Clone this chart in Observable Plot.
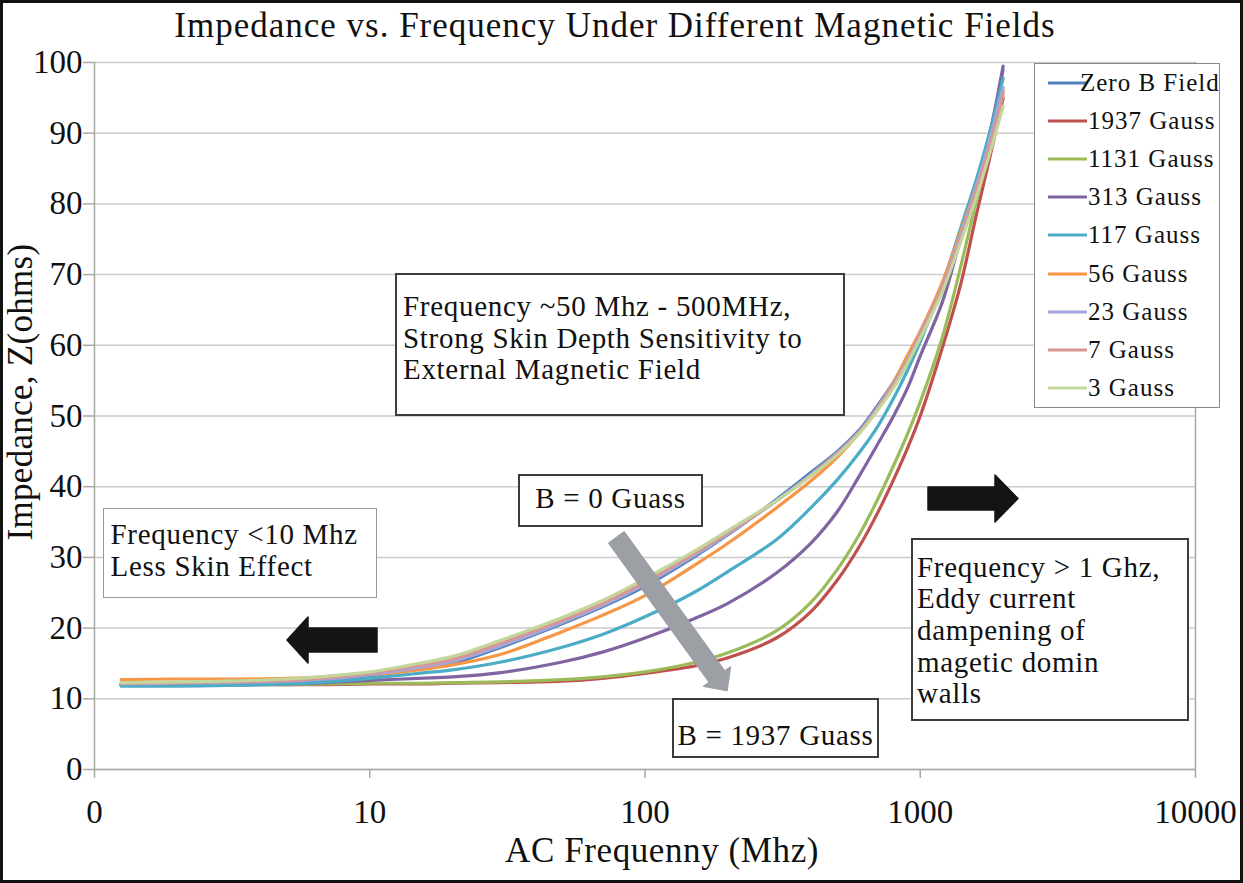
<!DOCTYPE html>
<html>
<head>
<meta charset="utf-8">
<script src="https://cdn.jsdelivr.net/npm/d3@7"></script>
<script src="https://cdn.jsdelivr.net/npm/@observablehq/plot@0.6"></script>
<style>
  html, body { margin: 0; padding: 0; background: #fff; }
  #wrap { position: relative; width: 1243px; height: 883px; overflow: hidden; background: #fff;
          font-family: "Liberation Serif", "Times New Roman", serif; color: #111; }
  .abs { position: absolute; }
  #title { left: 0; top: 0; width: 1230px; height: 50px; line-height: 50px; padding-top: 1px; box-sizing: border-box;
           text-align: center; font-size: 35px; letter-spacing: 1px; white-space: nowrap; }
  .box { position: absolute; background: #fff; box-sizing: border-box; font-size: 29px; line-height: 31.7px;
         letter-spacing: 0.7px; white-space: nowrap; }
  #frame { position: absolute; left: 0; top: 0; width: 1243px; height: 883px; box-sizing: border-box;
           border: 3px solid #111; pointer-events: none; }
  #legend { position: absolute; left: 1034px; top: 63px; width: 186px; height: 345px; box-sizing: border-box;
            border: 1.5px solid #8a8a8a; background: #fff; }
  .lrow { position: absolute; left: 0; height: 30px; width: 186px; }
  .ltext { position: absolute; font-size: 25px; letter-spacing: 1px; line-height: 30px; white-space: nowrap; top: 0; }
</style>
</head>
<body>
<div id="wrap">
  <div id="title" class="abs">Impedance vs. Frequency Under Different Magnetic Fields</div>
  <div id="chart" class="abs" style="left:0;top:50px;"></div>
</div>
<script>
// ---- data ----
const freq = [1.25, 2, 3, 5, 7, 10, 15, 20, 30, 50, 70, 100, 150, 200, 300, 400, 500, 600, 700, 800, 900, 1000, 1200, 1400, 1600, 1800, 2000];

const zeroB  = [12.0, 12.1, 12.2, 12.4, 12.7, 13.2, 14.2, 15.0, 17.3, 20.6, 23.0, 25.9, 30.0, 33.2, 38.2, 42.0, 45.0, 48.0, 51.5, 54.8, 58.0, 61.5, 68.5, 75.5, 82.5, 90.0, 99.0];
const g1937  = [12.0, 12.0, 12.0, 12.0, 12.0, 12.1, 12.1, 12.2, 12.3, 12.5, 12.9, 13.6, 14.6, 15.8, 18.6, 22.3, 26.8, 31.5, 36.3, 41.0, 45.5, 50.0, 59.5, 68.5, 78.5, 87.0, 95.0];
const g1131  = [12.0, 12.0, 12.0, 12.0, 12.1, 12.2, 12.2, 12.3, 12.4, 12.7, 13.1, 13.8, 15.1, 16.5, 19.6, 23.6, 28.3, 33.2, 38.2, 43.0, 47.5, 52.0, 61.0, 71.0, 80.5, 88.5, 96.0];
const g313   = [12.0, 12.0, 12.0, 12.1, 12.3, 12.6, 12.9, 13.1, 13.7, 15.2, 16.6, 18.6, 21.3, 23.5, 27.8, 32.0, 36.5, 41.5, 46.0, 50.0, 54.0, 58.5, 66.0, 75.0, 83.0, 90.5, 99.5];
const g117   = [11.8, 11.8, 11.9, 12.1, 12.4, 12.9, 13.6, 14.1, 15.2, 17.3, 19.1, 21.6, 25.0, 28.0, 32.5, 37.0, 41.0, 44.8, 48.5, 52.5, 56.5, 60.5, 68.5, 76.5, 83.5, 90.5, 97.8];
const g56    = [12.7, 12.8, 12.8, 12.9, 13.1, 13.4, 14.1, 14.8, 16.3, 19.5, 21.8, 24.6, 28.8, 32.0, 37.0, 40.8, 44.2, 47.6, 51.2, 54.8, 58.6, 62.0, 68.8, 76.0, 82.5, 89.0, 96.0];
const g23    = [12.1, 12.2, 12.3, 12.5, 12.8, 13.4, 14.4, 15.3, 17.5, 20.8, 23.2, 26.2, 30.2, 33.3, 38.0, 41.7, 44.8, 47.8, 51.2, 54.6, 58.0, 61.6, 68.2, 75.5, 82.5, 89.5, 96.5];
const g7     = [12.2, 12.3, 12.4, 12.6, 13.0, 13.6, 14.7, 15.6, 17.9, 21.1, 23.5, 26.5, 30.5, 33.5, 38.0, 41.6, 44.7, 47.7, 51.0, 54.4, 57.8, 61.4, 68.0, 75.0, 82.0, 88.5, 95.5];
const g3     = [12.3, 12.4, 12.5, 12.8, 13.2, 13.8, 15.0, 16.0, 18.3, 21.5, 23.9, 27.0, 30.8, 33.8, 38.0, 41.5, 44.5, 47.5, 50.8, 54.0, 57.5, 61.0, 67.5, 74.5, 81.0, 87.5, 93.8];

const seriesNames  = ["Zero B Field", "1937 Gauss", "1131 Gauss", "313 Gauss", "117 Gauss", "56 Gauss", "23 Gauss", "7 Gauss", "3 Gauss"];
const seriesValues = [zeroB, g1937, g1131, g313, g117, g56, g23, g7, g3];
const seriesColors = ["#4F81BD", "#C0504D", "#9BBB59", "#8064A2", "#4BACC6", "#F79646", "#A2A6D8", "#D99694", "#C3D69B"];

const xTicks = [1, 10, 100, 1000, 10000];
const xTickLabels = ["0", "10", "100", "1000", "10000"];
const yTicks = [0, 10, 20, 30, 40, 50, 60, 70, 80, 90, 100];

const table = seriesNames.flatMap((s, k) => freq.map((f, i) => ({series: s, f, z: seriesValues[k][i]})));
const xLabelMap = new Map(xTicks.map((t, i) => [t, xTickLabels[i]]));

// ---- chart ----
const axisGray = "#a8a8a8";
const chart = Plot.plot({
  width: 1243,
  height: 833,
  marginTop: 12,
  marginBottom: 114,
  marginLeft: 94,
  marginRight: 48,
  style: {fontFamily: "'Liberation Serif', 'Times New Roman', serif", fontSize: "33px", color: "#111", background: "transparent", overflow: "visible"},
  x: {type: "log", domain: [1, 10000], axis: null},
  y: {domain: [0, 100], axis: null},
  color: {domain: seriesNames, range: seriesColors},
  marks: [
    Plot.gridY(yTicks, {stroke: "#cbcbcb", strokeOpacity: 1, strokeWidth: 1.5}),
    Plot.ruleX([1], {stroke: axisGray, strokeWidth: 1.5}),
    Plot.ruleX([10000], {stroke: axisGray, strokeWidth: 1.5}),
    Plot.ruleY([0], {stroke: axisGray, strokeWidth: 1.5}),
    Plot.axisX(xTicks, {tickFormat: d => xLabelMap.get(d), tickSize: 9, tickPadding: 21, stroke: axisGray, strokeWidth: 1.5, fill: "#111", fontSize: 33, fontFamily: "Liberation Serif", label: null}),
    Plot.axisY(yTicks, {tickSize: 11, tickPadding: 1, stroke: axisGray, strokeWidth: 1.5, fill: "#111", fontSize: 33, fontFamily: "Liberation Serif", label: null}),
    Plot.line(table, {x: "f", y: "z", z: "series", stroke: "series", strokeWidth: 3.2, curve: "catmull-rom"})
  ]
});
document.getElementById("chart").appendChild(chart);

const wrap = document.getElementById("wrap");

// ---- axis titles ----
const xl = document.createElement("div");
xl.className = "abs";
xl.style.cssText = "left:505px;top:831px;font-size:35px;line-height:40px;letter-spacing:0.6px;white-space:nowrap;";
xl.textContent = "AC Frequenny (Mhz)";
wrap.appendChild(xl);

const yl = document.createElement("div");
yl.className = "abs";
yl.style.cssText = "left:-178.8px;top:372px;width:400px;height:40px;font-size:35px;line-height:40px;text-align:center;letter-spacing:0.3px;white-space:nowrap;transform:rotate(-90deg);transform-origin:200px 20px;";
yl.textContent = "Impedance, Z(ohms)";
wrap.appendChild(yl);

// ---- annotation shapes (arrows) ----
const ns = "http://www.w3.org/2000/svg";
const ov = document.createElementNS(ns, "svg");
ov.setAttribute("width", 1243); ov.setAttribute("height", 883);
ov.style.cssText = "position:absolute;left:0;top:0;pointer-events:none;";
function poly(pts, fill) {
  const p = document.createElementNS(ns, "polygon");
  p.setAttribute("points", pts.map(q => q.join(",")).join(" "));
  p.setAttribute("fill", fill);
  p.setAttribute("stroke", fill);
  p.setAttribute("stroke-width", 1.5);
  p.setAttribute("stroke-linejoin", "round");
  ov.appendChild(p);
}
poly([[287,640],[308,617],[308,628],[377,628],[377,652],[308,652],[308,663]], "#141414");
poly([[928,487],[995,487],[995,475],[1018,498.5],[995,522],[995,510],[928,510]], "#141414");
(function () {
  const A = [616.5, 537.5], B = [727, 690.5];
  const dx = B[0] - A[0], dy = B[1] - A[1], L = Math.hypot(dx, dy);
  const u = [dx / L, dy / L], n = [-u[1], u[0]];
  const hl = 17, sw = 9.5, hw = 16.5;
  const H = [B[0] - hl * u[0], B[1] - hl * u[1]];
  const pt = (P, k) => [P[0] + k * n[0], P[1] + k * n[1]];
  poly([pt(A, sw), pt(H, sw), pt(H, hw), B, pt(H, -hw), pt(H, -sw), pt(A, -sw)], "#9c9fa3");
})();
wrap.appendChild(ov);

// ---- text boxes ----
function box(left, top, w, h, border, padTop, padLeft, lines, align) {
  const d = document.createElement("div");
  d.className = "box";
  d.style.left = left + "px"; d.style.top = top + "px";
  d.style.width = w + "px"; d.style.height = h + "px";
  d.style.border = border;
  d.style.paddingTop = padTop + "px";
  d.style.paddingLeft = padLeft + "px";
  if (align) d.style.textAlign = align;
  d.innerHTML = lines.map(t => t.replace(/&/g, "&amp;").replace(/</g, "&lt;").replace(/>/g, "&gt;")).join("<br>");
  wrap.appendChild(d);
}
box(395, 273, 450, 143, "2px solid #3c3c3c", 16, 6, ["Frequency ~50 Mhz - 500MHz,", "Strong Skin Depth Sensitivity to", "External Magnetic Field"]);
box(518, 474, 185, 53, "2px solid #3c3c3c", 6.5, 0, ["B = 0 Guass"], "center");
box(103, 508, 274, 90, "1.5px solid #9a9a9a", 10, 6.5, ["Frequency <10 Mhz", "Less Skin Effect"]);
box(911, 538, 278, 183, "2px solid #3c3c3c", 11.5, 4, ["Frequency > 1 Ghz,", "Eddy current", "dampening of", "magetic domin", "walls"]);
box(672, 698, 207, 60, "2px solid #3c3c3c", 19.5, 0, ["B = 1937 Guass"], "center");

// ---- legend ----
const lg = document.createElement("div");
lg.id = "legend";
seriesNames.forEach((s, i) => {
  const row = document.createElement("div");
  row.className = "lrow";
  row.style.top = (82 + 38.1 * i - 15 - 63) + "px";
  const sw = document.createElementNS(ns, "svg");
  sw.setAttribute("width", 186); sw.setAttribute("height", 30);
  sw.style.cssText = "position:absolute;left:0;top:0;";
  const ln = document.createElementNS(ns, "line");
  ln.setAttribute("x1", 13); ln.setAttribute("x2", 52);
  ln.setAttribute("y1", 15); ln.setAttribute("y2", 15);
  ln.setAttribute("stroke", seriesColors[i]); ln.setAttribute("stroke-width", 3);
  sw.appendChild(ln);
  row.appendChild(sw);
  const t = document.createElement("div");
  t.className = "ltext";
  t.style.left = (i === 0 ? 45 : 53) + "px";
  t.textContent = s;
  row.appendChild(t);
  lg.appendChild(row);
});
wrap.appendChild(lg);

// ---- outer frame ----
const fr = document.createElement("div");
fr.id = "frame";
wrap.appendChild(fr);
</script>
</body>
</html>
